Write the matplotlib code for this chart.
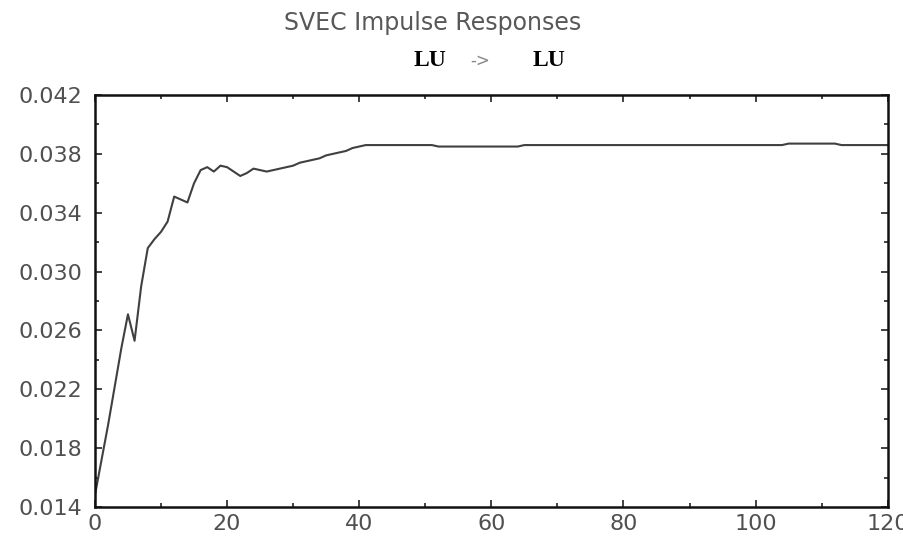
import matplotlib
matplotlib.use("Agg")
from matplotlib import pyplot as plt
from matplotlib.ticker import MultipleLocator

# respuesta de LU a un shock en LU, un valor por periodo (0..120)
periodos = list(range(121))
respuesta = [
    0.0148, 0.0172, 0.0196, 0.0222, 0.0248, 0.0271, 0.0253, 0.0290, 0.0316, 0.0322,
    0.0327, 0.0334, 0.0351, 0.0349, 0.0347, 0.0360, 0.0369, 0.0371, 0.0368, 0.0372,
    0.0371, 0.0368, 0.0365, 0.0367, 0.0370, 0.0369, 0.0368, 0.0369, 0.0370, 0.0371,
    0.0372, 0.0374, 0.0375, 0.0376, 0.0377, 0.0379, 0.0380, 0.0381, 0.0382, 0.0384,
    0.0385, 0.0386, 0.0386, 0.0386, 0.0386, 0.0386, 0.0386, 0.0386, 0.0386, 0.0386,
    0.0386, 0.0386, 0.0385, 0.0385, 0.0385, 0.0385, 0.0385, 0.0385, 0.0385, 0.0385,
    0.0385, 0.0385, 0.0385, 0.0385, 0.0385, 0.0386, 0.0386, 0.0386, 0.0386, 0.0386,
    0.0386, 0.0386, 0.0386, 0.0386, 0.0386, 0.0386, 0.0386, 0.0386, 0.0386, 0.0386,
    0.0386, 0.0386, 0.0386, 0.0386, 0.0386, 0.0386, 0.0386, 0.0386, 0.0386, 0.0386,
    0.0386, 0.0386, 0.0386, 0.0386, 0.0386, 0.0386, 0.0386, 0.0386, 0.0386, 0.0386,
    0.0386, 0.0386, 0.0386, 0.0386, 0.0386, 0.0387, 0.0387, 0.0387, 0.0387, 0.0387,
    0.0387, 0.0387, 0.0387, 0.0386, 0.0386, 0.0386, 0.0386, 0.0386, 0.0386, 0.0386,
    0.0386,
]
ticks_x = [0, 20, 40, 60, 80, 100, 120]
ticks_y = [0.014, 0.018, 0.022, 0.026, 0.030, 0.034, 0.038, 0.042]

titulo = "SVEC Impulse Responses"
impulso = "LU"
respuesta_var = "LU"

fig = plt.figure(figsize=(9.04, 5.4), dpi=100)
ax = fig.add_axes([0.105, 0.061, 0.877, 0.763])

ax.plot(periodos, respuesta, color="#404040", linewidth=1.5)

ax.set_xlim(0, 120)
ax.set_ylim(0.014, 0.042)
ax.set_xticks(ticks_x)
ax.set_yticks(ticks_y)
ax.set_xticklabels([str(t) for t in ticks_x])
ax.set_yticklabels([f"{t:.3f}" for t in ticks_y])
ax.xaxis.set_minor_locator(MultipleLocator(10))
ax.yaxis.set_minor_locator(MultipleLocator(0.002))

ax.tick_params(which="both", direction="in", top=True, right=True,
               colors="#222222", labelcolor="#505050", width=1.2)
ax.tick_params(which="major", length=5, labelsize=16)
ax.tick_params(axis="y", which="major", pad=9)
ax.tick_params(axis="x", which="major", pad=5)
ax.tick_params(which="minor", length=3)
for lado in ax.spines.values():
    lado.set_linewidth(1.8)
    lado.set_color("#111111")

# titulos de la parte superior
fig.text(0.479, 0.958, titulo, ha="center", va="center", fontsize=17,
         color="#585858", family="DejaVu Sans")
fig.text(0.476, 0.888, impulso, ha="center", va="center", fontsize=17,
         fontweight="bold", family="Liberation Serif", color="black")
fig.text(0.531, 0.888, "->", ha="center", va="center", fontsize=12,
         color="#888888", family="DejaVu Sans")
fig.text(0.607, 0.888, respuesta_var, ha="center", va="center", fontsize=17,
         fontweight="bold", family="Liberation Serif", color="black")

fig.savefig("out.png", dpi=100)
